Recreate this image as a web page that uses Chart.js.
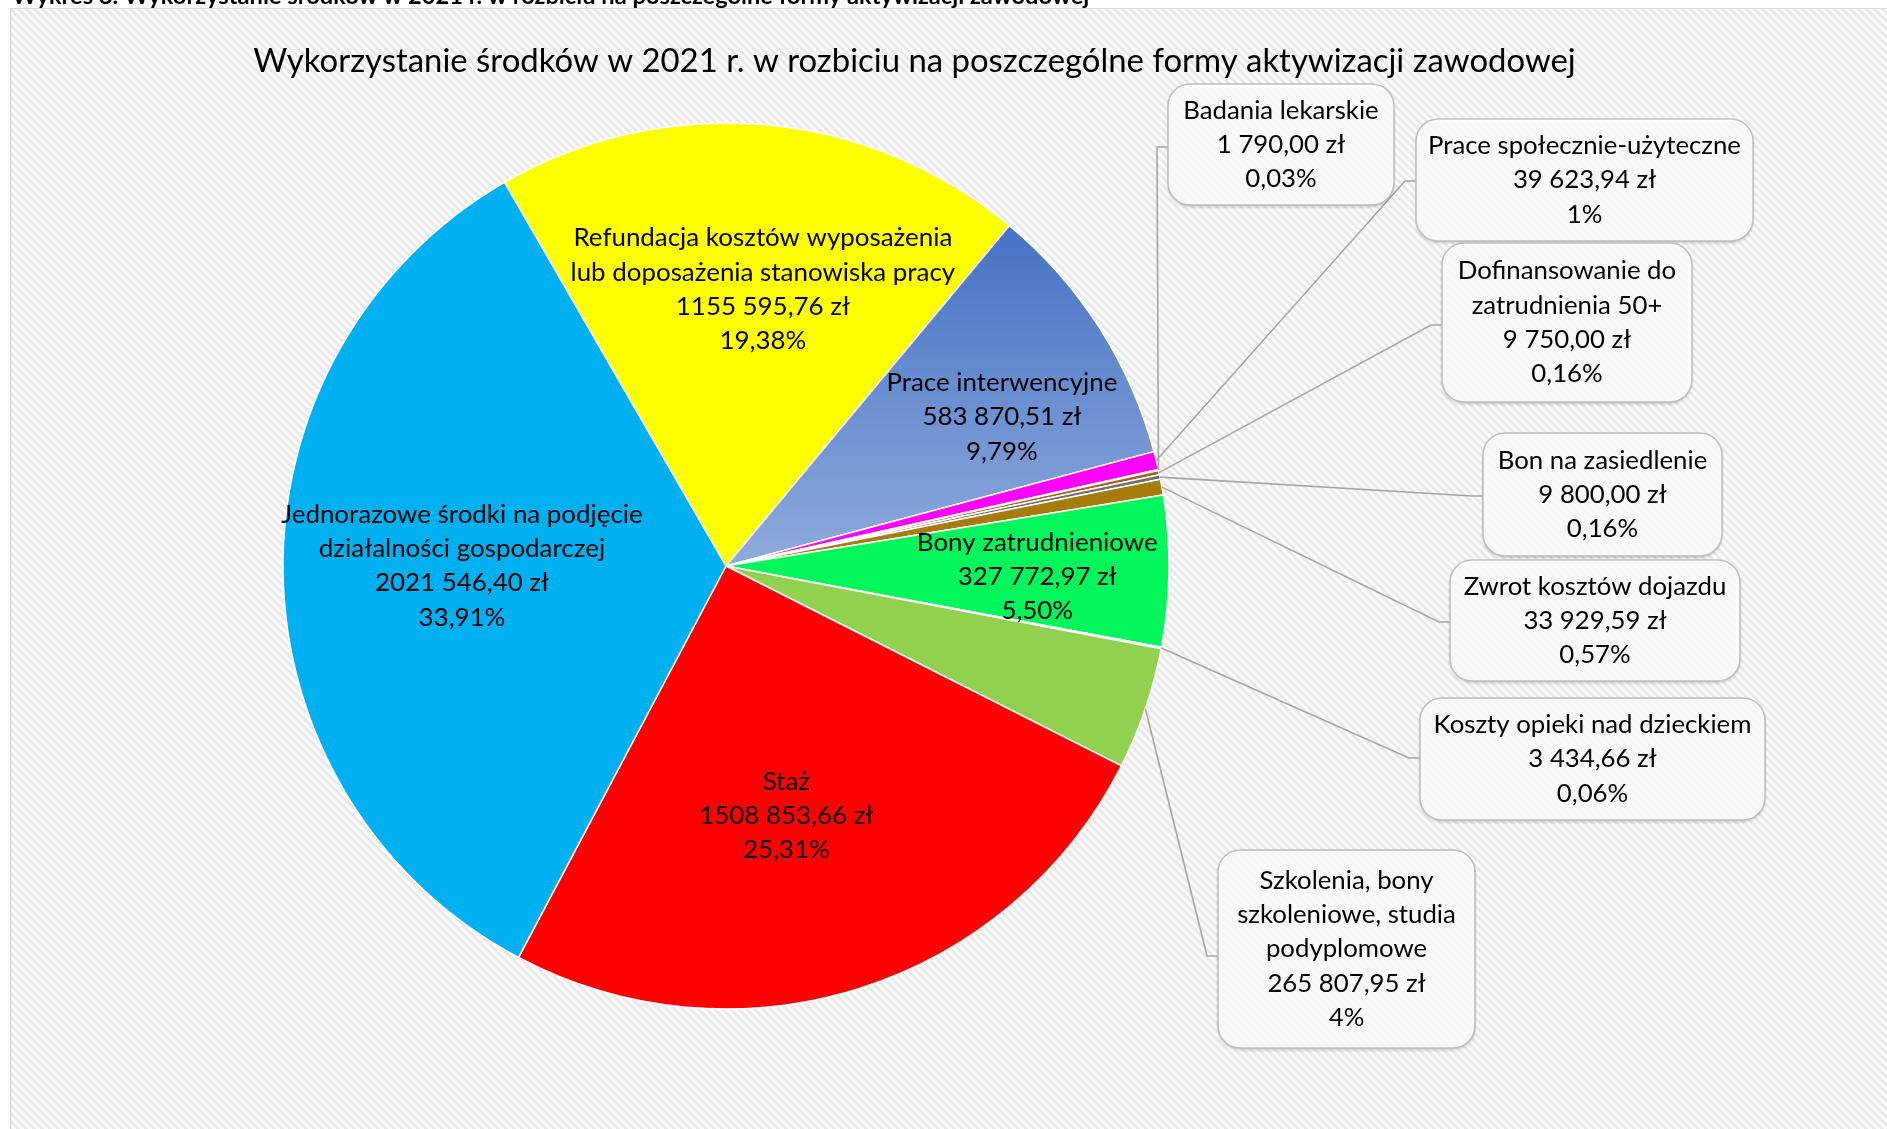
<!DOCTYPE html>
<html><head><meta charset="utf-8">
<script src="https://cdn.jsdelivr.net/npm/chart.js@4.4.0/dist/chart.umd.min.js"></script>
<style>html,body{margin:0;padding:0;background:#fff;overflow:hidden}canvas{display:block}</style>
</head><body>
<canvas id="c" width="1887" height="1129"></canvas>
<script>
// ---- data ----
const captionText = 'Wykres 8. Wykorzystanie środków w 2021 r. w rozbiciu na poszczególne formy aktywizacji zawodowej';
const titleText = 'Wykorzystanie środków w 2021 r. w rozbiciu na poszczególne formy aktywizacji zawodowej';
const categories = [
  'Refundacja kosztów wyposażenia lub doposażenia stanowiska pracy',
  'Prace interwencyjne',
  'Prace społecznie-użyteczne',
  'Badania lekarskie',
  'Dofinansowanie do zatrudnienia 50+',
  'Bon na zasiedlenie',
  'Zwrot kosztów dojazdu',
  'Bony zatrudnieniowe',
  'Koszty opieki nad dzieckiem',
  'Szkolenia, bony szkoleniowe, studia podyplomowe',
  'Staż',
  'Jednorazowe środki na podjęcie działalności gospodarczej'
];
const categoryLines = [
  ['Refundacja kosztów wyposażenia', 'lub doposażenia stanowiska pracy'],
  ['Prace interwencyjne'],
  ['Prace społecznie-użyteczne'],
  ['Badania lekarskie'],
  ['Dofinansowanie do', 'zatrudnienia 50+'],
  ['Bon na zasiedlenie'],
  ['Zwrot kosztów dojazdu'],
  ['Bony zatrudnieniowe'],
  ['Koszty opieki nad dzieckiem'],
  ['Szkolenia, bony', 'szkoleniowe, studia', 'podyplomowe'],
  ['Staż'],
  ['Jednorazowe środki na podjęcie', 'działalności gospodarczej']
];
const values = [1155595.76, 583870.51, 39623.94, 1790.00, 9750.00, 9800.00, 33929.59, 327772.97, 3434.66, 265807.95, 1508853.66, 2021546.40];
const valueLabels = ['1155 595,76 zł', '583 870,51 zł', '39 623,94 zł', '1 790,00 zł', '9 750,00 zł', '9 800,00 zł', '33 929,59 zł', '327 772,97 zł', '3 434,66 zł', '265 807,95 zł', '1508 853,66 zł', '2021 546,40 zł'];
const percentLabels = ['19,38%', '9,79%', '1%', '0,03%', '0,16%', '0,16%', '0,57%', '5,50%', '0,06%', '4%', '25,31%', '33,91%'];

// ---- styles / layout ----
const sliceColors = ['#FFFF00', '#6A8ED0', '#FF00FF', '#843C0C', '#B4581E', '#6E6E6E', '#A67C0C', '#00F65A', '#F2F2F2', '#92D050', '#FF0000', '#00B0F0'];
const insideLayout = {0:{f:0.63,d:2.7}, 1:{f:0.708,d:4.2}, 7:{f:0.703,d:1.3}, 10:{f:0.58,d:4.05}, 11:{f:0.596,d:1.1}};
const calloutLayout = {
  3:{x:1168,y:84,w:226,h:121,ly:147},
  2:{x:1416,y:119,w:337,h:122,ly:181},
  4:{x:1442,y:243,w:250,h:159,ly:325},
  5:{x:1483,y:433,w:239,h:123,ly:496},
  6:{x:1450,y:560,w:290,h:121,ly:622},
  8:{x:1420,y:698,w:345,h:122,ly:758},
  9:{x:1218,y:850,w:257,h:198,ly:956}
};
const FAMILY = 'Lato, "Open Sans", sans-serif';
function fitSize(text, target, weight) {
  const c = document.createElement('canvas').getContext('2d');
  c.font = `${weight} 100px ${FAMILY}`;
  return 100 * target / c.measureText(text).width;
}
const titleSize = fitSize(titleText, 1323, 'normal');
const captionSize = fitSize(captionText, 1078, 'bold');
const labelSize = fitSize('Refundacja kosztów wyposażenia', 379, 'normal');
const boxSize = fitSize('Koszty opieki nad dzieckiem', 318, 'normal');
const LINE = 34.3;

function makePattern(ctx) {
  const t = document.createElement('canvas');
  const p = 8; t.width = p; t.height = p;
  const tc = t.getContext('2d');
  const img = tc.createImageData(p, p);
  for (let y = 0; y < p; y++) for (let x = 0; x < p; x++) {
    const k = ((x - y) % p + p) % p;
    const v = k < 4 ? 233 : 251;
    const i = (y * p + x) * 4;
    img.data[i] = v; img.data[i+1] = v; img.data[i+2] = v; img.data[i+3] = 255;
  }
  tc.putImageData(img, 0, 0);
  return ctx.createPattern(t, 'repeat');
}

function roundRect(c, x, y, w, h, r) {
  c.beginPath();
  c.moveTo(x + r, y);
  c.lineTo(x + w - r, y); c.arcTo(x + w, y, x + w, y + r, r);
  c.lineTo(x + w, y + h - r); c.arcTo(x + w, y + h, x + w - r, y + h, r);
  c.lineTo(x + r, y + h); c.arcTo(x, y + h, x, y + h - r, r);
  c.lineTo(x, y + r); c.arcTo(x, y, x + r, y, r);
  c.closePath();
}

const decor = {
  id: 'decor',
  beforeDraw(chart) {
    const c = chart.ctx, W = chart.width, H = chart.height;
    c.save();
    c.fillStyle = '#fff'; c.fillRect(0, 0, W, H);
    c.fillStyle = makePattern(c); c.fillRect(10, 8, W - 10, H - 8);
    c.strokeStyle = '#D9D9D9'; c.lineWidth = 1;
    c.beginPath(); c.moveTo(10.5, H); c.lineTo(10.5, 8.5); c.lineTo(W, 8.5); c.stroke();
    c.fillStyle = '#000';
    c.font = `bold ${captionSize}px ${FAMILY}`;
    c.textAlign = 'left'; c.textBaseline = 'alphabetic';
    c.fillText(captionText, 12, 4);
    c.font = `normal ${titleSize}px ${FAMILY}`;
    c.textAlign = 'center'; c.textBaseline = 'middle';
    c.fillText(titleText, 914.5, 61);
    c.restore();
  },
  afterDatasetsDraw(chart) {
    const c = chart.ctx;
    const arcs = chart.getDatasetMeta(0).data;
    c.save();
    // inside labels
    c.fillStyle = '#000'; c.textAlign = 'center'; c.textBaseline = 'middle';
    c.font = `normal ${labelSize}px ${FAMILY}`;
    Object.keys(insideLayout).forEach(k => {
      const i = +k, a = arcs[i], L = insideLayout[i];
      const mid = (a.startAngle + a.endAngle) / 2 + L.d * Math.PI / 180;
      const cx = a.x + Math.cos(mid) * a.outerRadius * L.f;
      const cy = a.y + Math.sin(mid) * a.outerRadius * L.f;
      const lines = [...categoryLines[i], valueLabels[i], percentLabels[i]];
      const y0 = cy - (lines.length - 1) * LINE / 2;
      lines.forEach((t, j) => c.fillText(t, cx, y0 + j * LINE));
    });
    // callouts
    Object.keys(calloutLayout).forEach(k => {
      const i = +k, a = arcs[i], B = calloutLayout[i];
      const mid = (a.startAngle + a.endAngle) / 2;
      const ex = a.x + Math.cos(mid) * a.outerRadius;
      const ey = a.y + Math.sin(mid) * a.outerRadius;
      c.strokeStyle = '#A6A6A6'; c.lineWidth = 1.6;
      c.beginPath(); c.moveTo(ex, ey); c.lineTo(B.x - 11, B.ly); c.lineTo(B.x, B.ly); c.stroke();
    });
    Object.keys(calloutLayout).forEach(k => {
      const i = +k, B = calloutLayout[i];
      c.save();
      c.shadowColor = 'rgba(0,0,0,0.22)'; c.shadowBlur = 3; c.shadowOffsetY = 2;
      roundRect(c, B.x, B.y, B.w, B.h, 22);
      c.fillStyle = 'rgba(255,255,255,0.88)'; c.fill();
      c.restore();
      roundRect(c, B.x, B.y, B.w, B.h, 22);
      c.strokeStyle = '#BFBFBF'; c.lineWidth = 1.6; c.stroke();
      const lines = [...categoryLines[i], valueLabels[i], percentLabels[i]];
      c.fillStyle = '#000'; c.textAlign = 'center'; c.textBaseline = 'middle';
      c.font = `normal ${boxSize}px ${FAMILY}`;
      const cx = B.x + B.w / 2, cy = B.y + B.h / 2;
      const y0 = cy - (lines.length - 1) * LINE / 2;
      lines.forEach((t, j) => c.fillText(t, cx, y0 + j * LINE));
    });
    c.restore();
  }
};

const canvas = document.getElementById('c');
new Chart(canvas, {
  type: 'pie',
  data: {
    labels: categories,
    datasets: [{
      data: values,
      backgroundColor: (ctx) => {
        if (ctx.dataIndex === 1 && ctx.chart.chartArea) {
          const ca = ctx.chart.chartArea;
          const cy = (ca.top + ca.bottom) / 2;
          const g = ctx.chart.ctx.createLinearGradient(0, ca.top + 100, 0, cy);
          g.addColorStop(0, '#4472C4');
          g.addColorStop(1, '#8FAADC');
          return g;
        }
        return sliceColors[ctx.dataIndex];
      },
      borderColor: '#FFFFFF',
      borderWidth: 1.5
    }]
  },
  options: {
    responsive: false,
    animation: false,
    devicePixelRatio: 1,
    rotation: -30,
    radius: 443,
    layout: { padding: { left: 283, top: 123, right: 718, bottom: 120 } },
    plugins: { legend: { display: false }, tooltip: { enabled: false }, title: { display: false } }
  },
  plugins: [decor]
});
</script>
</body></html>
